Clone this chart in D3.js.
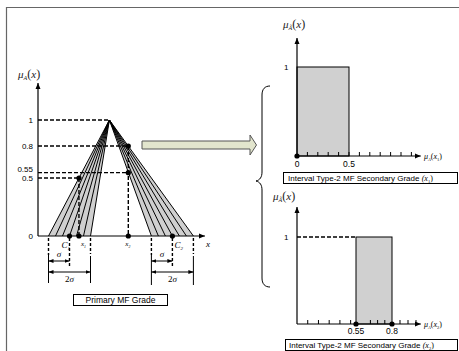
<!DOCTYPE html>
<html><head><meta charset="utf-8">
<script src="https://cdn.jsdelivr.net/npm/d3@7"></script>
<style>body{margin:0;background:#fff}svg{display:block}</style>
</head><body>
<script>
// ---------- data ----------
const leftYTicks = [0, 0.5, 0.55, 0.8, 1];
const leftYLabels = ["0", "0.5", "0.55", "0.8", "1"];
const C1 = 1.5, C2 = 6.4, sigma = 1, peakX = 3.4;
const x1 = 1.95, x2 = 4.3;
const lineCount = 7;
const gradeX1 = [0, 0.5];      // secondary grade interval at x1
const gradeX2 = [0.55, 0.8];   // secondary grade interval at x2
const topTicks = [0.1,0.2,0.3,0.4,0.5,0.6,0.7,0.8,0.9,1.0,1.1];
const bottomTicks = [0.1,0.2,0.3,0.4,0.5,0.65,0.7,0.75,0.9,1.0,1.1];
const topXLabels = [0, 0.5];
const bottomXLabels = [0.55, 0.8];

// ---------- setup ----------
const W = 459, H = 351;
const svg = d3.select("body").append("svg").attr("width", W).attr("height", H);
svg.append("rect").attr("width", W).attr("height", H).attr("fill", "#fff");
const defs = svg.append("defs");
defs.append("marker").attr("id","ax").attr("viewBox","0 0 6 6").attr("refX",6).attr("refY",3)
  .attr("markerWidth",6).attr("markerHeight",6).attr("markerUnits","userSpaceOnUse")
  .attr("orient","auto-start-reverse")
  .append("path").attr("d","M0,0.5L6,3L0,5.5Z").attr("fill","#000");
defs.append("marker").attr("id","sm").attr("viewBox","0 0 5 4").attr("refX",5).attr("refY",2)
  .attr("markerWidth",5).attr("markerHeight",4).attr("markerUnits","userSpaceOnUse")
  .attr("orient","auto-start-reverse")
  .append("path").attr("d","M0,0L5,2L0,4Z").attr("fill","#000");

const SANS = "Arial, 'Liberation Sans', sans-serif";
const SERIF = "'Times New Roman', 'Liberation Serif', serif";

// outer frame
svg.append("path").attr("d",`M6.5,${H}V7.5H${W}`).attr("fill","none").attr("stroke","#666").attr("stroke-width",1.2);

function line(g, xa, ya, xb, yb, opts={}) {
  const l = g.append("line").attr("x1",xa).attr("y1",ya).attr("x2",xb).attr("y2",yb)
    .attr("stroke","#000").attr("stroke-width",opts.w||1);
  if (opts.dash) l.attr("stroke-dasharray", opts.dash);
  if (opts.end) l.attr("marker-end", `url(#${opts.end})`);
  if (opts.start) l.attr("marker-start", `url(#${opts.start})`);
  return l;
}
function dot(g, x, y) { g.append("circle").attr("cx",x).attr("cy",y).attr("r",2.6).attr("fill","#000"); }
function muLabel(g, x, y, sub, arg, size=11) {
  const t = g.append("text").attr("x",x).attr("y",y).attr("font-family",SERIF).attr("font-size",size).attr("fill","#222");
  t.append("tspan").attr("font-style","italic").text("μ");
  t.append("tspan").attr("font-style","italic").attr("font-size",size*0.55).attr("dy",size*0.22).text(sub);
  t.append("tspan").attr("dy",-size*0.22).attr("font-size",size*1.1).text("(");
  t.append("tspan").attr("font-style","italic").text("x");
  t.append("tspan").attr("font-size",size*1.1).text(")");
}
function smallMu(g, x, y, sub) {
  const t = g.append("text").attr("x",x).attr("y",y).attr("font-family",SERIF).attr("font-size",8);
  t.append("tspan").attr("font-style","italic").text("μ");
  t.append("tspan").attr("font-style","italic").attr("font-size",4.5).attr("dy",1.5).text("A");
  t.append("tspan").attr("dy",-1.5).text("(");
  t.append("tspan").attr("font-style","italic").text("x");
  t.append("tspan").attr("font-size",4.5).attr("dy",1.5).text(sub);
  t.append("tspan").attr("dy",-1.5).text(")");
}

// ---------- left: primary MF ----------
const gL = svg.append("g");
const xL = d3.scaleLinear().domain([0, 8]).range([38, 206]);
const yL = d3.scaleLinear().domain([0, 0.5, 0.8, 1]).range([236, 178, 146, 120]);

// shaded footprints
[C1, C2].forEach(c => {
  gL.append("path").attr("d", d3.line()([[xL(peakX), yL(1)], [xL(c - sigma), yL(0)], [xL(c + sigma), yL(0)]]) + "Z")
    .attr("fill", "#cfcfcf");
  d3.range(lineCount).forEach(i => {
    const f = c - sigma + i * (2 * sigma / (lineCount - 1));
    line(gL, xL(peakX), yL(1), xL(f), yL(0), {w:1});
  });
});
// axes
line(gL, xL(0), yL(0), xL(0), 83, {w:1.2, end:"ax"});
line(gL, xL(0), yL(0), xL(7.95), yL(0), {w:1.2, end:"ax"});
muLabel(gL, 18, 78, "A", "x", 11);
gL.append("text").attr("x", xL(7.95)+1).attr("y", yL(0)+11).attr("font-family",SERIF).attr("font-style","italic").attr("font-size",9).text("x");
// y tick labels
leftYTicks.forEach((v,i) => {
  gL.append("text").attr("x", 33).attr("y", yL(v) + (v===0.55 ? -1 : 3)).attr("text-anchor","end")
    .attr("font-family",SANS).attr("font-size",8).text(leftYLabels[i]);
});
// dashed guides
const DASH = "4,2";
[[1, peakX], [0.8, x2], [0.55, x2], [0.5, x1]].forEach(([v, xe]) => {
  line(gL, xL(0), yL(v), xL(xe), yL(v), {w:1.4, dash:DASH});
});
line(gL, xL(x1), yL(0.5), xL(x1), yL(0), {w:1.4, dash:DASH});
line(gL, xL(x2), yL(0.8), xL(x2), yL(0), {w:1.4, dash:DASH});
[[x1,0.5],[x2,0.8],[x2,0.55],[C1,0],[x1,0],[x2,0],[C2,0]].forEach(([a,b]) => dot(gL, xL(a), yL(b)));
// point labels
function subLabel(g, x, y, base, sub, size) {
  const t = g.append("text").attr("x",x).attr("y",y).attr("font-family",SERIF).attr("font-style","italic").attr("font-size",size);
  t.append("tspan").text(base);
  t.append("tspan").attr("font-size",size*0.55).attr("dy",2).text(sub);
}
subLabel(gL, xL(C1)-8, yL(0)+12, "C", "1", 9);
subLabel(gL, xL(x1)+2, yL(0)+10, "x", "1", 7);
subLabel(gL, xL(x2)-3, yL(0)+10, "x", "2", 7);
subLabel(gL, xL(C2)+2, yL(0)+12, "C", "2", 9);
// sigma dimension lines
[[C1, 283], [C2, 285]].forEach(([c, bot]) => {
  const a = xL(c - sigma), m = xL(c), b = xL(c + sigma);
  line(gL, a, 238, a, 255, {w:1.4, dash:"3,2"});
  line(gL, a, 255, a, bot, {w:1});
  line(gL, m, 238, m, 266, {w:1.4, dash:"3,2"});
  line(gL, b, 238, b, 254, {w:1.4, dash:"3,2"});
  line(gL, b, 256, b, bot, {w:1});
  line(gL, a, 261, m, 261, {w:1, start:"sm", end:"sm"});
  line(gL, a, 272, b, 272, {w:1, start:"sm", end:"sm"});
  gL.append("text").attr("x", (a+m)/2).attr("y", 257).attr("text-anchor","middle")
    .attr("font-family",SERIF).attr("font-style","italic").attr("font-size",9).text("σ");
  const t = gL.append("text").attr("x", (a+b)/2).attr("y", 282).attr("text-anchor","middle")
    .attr("font-family",SERIF).attr("font-size",9);
  t.append("tspan").text("2");
  t.append("tspan").attr("font-style","italic").text("σ");
});
// caption box
gL.append("rect").attr("x",73.5).attr("y",294.5).attr("width",94).attr("height",11).attr("fill","#fff").attr("stroke","#000");
gL.append("text").attr("x",120.5).attr("y",303).attr("text-anchor","middle").attr("font-family",SANS).attr("font-size",8.5).text("Primary MF Grade");

// ---------- block arrow & brace ----------
svg.append("path").attr("d","M142,141H250V135L256.5,145L250,155V149H142Z")
  .attr("fill","#e2e5cd").attr("stroke","#555").attr("stroke-width",1);
svg.append("path").attr("d","M270,86C265,86 262,89 262,95V172C262,177 260,180 256,181C260,182 262,185 262,190V278C262,284 265,287 270,287")
  .attr("fill","none").attr("stroke","#000").attr("stroke-width",1);

// ---------- top right: secondary grade at x1 ----------
const gT = svg.append("g");
const xT = d3.scaleLinear().domain([0, 0.5]).range([297, 349]);
const yT = d3.scaleLinear().domain([0, 1]).range([156, 67]);
gT.append("rect").attr("x", xT(gradeX1[0])).attr("y", yT(1)).attr("width", xT(gradeX1[1]) - xT(gradeX1[0]))
  .attr("height", yT(0) - yT(1)).attr("fill","#d0d0d0").attr("stroke","#000").attr("stroke-width",1);
line(gT, xT(0), yT(0), xT(0), 38, {w:1.2, end:"ax"});
line(gT, xT(0), yT(0), xT(1.19), yT(0), {w:1.2, end:"ax"});
topTicks.forEach(v => line(gT, xT(v), yT(0), xT(v), yT(0)-4, {w:1}));
dot(gT, xT(0), yT(0));
muLabel(gT, 283, 28, "Ã", "x", 11);
gT.append("text").attr("x", 284).attr("y", yT(1)+3).attr("font-family",SANS).attr("font-size",8).text("1");
topXLabels.forEach(v => gT.append("text").attr("x", xT(v)).attr("y", 167).attr("text-anchor","middle")
  .attr("font-family",SANS).attr("font-size",8.5).text(String(v)));
smallMu(gT, 424, 159, "1");
gT.append("rect").attr("x",283.5).attr("y",172.5).attr("width",174).attr("height",11).attr("fill","#fff").attr("stroke","#000");
const capT = gT.append("text").attr("x",288).attr("y",181).attr("font-family",SANS).attr("font-size",8);
capT.append("tspan").text("Interval Type-2 MF Secondary Grade ");
capT.append("tspan").attr("font-family",SERIF).attr("font-style","italic").text("(x");
capT.append("tspan").attr("font-family",SERIF).attr("font-size",4.5).attr("dy",1.5).text("1");
capT.append("tspan").attr("font-family",SERIF).attr("dy",-1.5).text(")");

// ---------- bottom right: secondary grade at x2 ----------
const gB = svg.append("g");
const xB = d3.scaleLinear().domain([0, 0.55, 0.8, 1.2]).range([297, 356, 392, 424]);
const yB = d3.scaleLinear().domain([0, 1]).range([324, 237]);
gB.append("rect").attr("x", xB(gradeX2[0])).attr("y", yB(1)).attr("width", xB(gradeX2[1]) - xB(gradeX2[0]))
  .attr("height", yB(0) - yB(1)).attr("fill","#d0d0d0").attr("stroke","#000").attr("stroke-width",1);
line(gB, xB(0), yB(0), xB(0), 207, {w:1.2, end:"ax"});
line(gB, xB(0), yB(0), xB(1.16), yB(0), {w:1.2, end:"ax"});
bottomTicks.forEach(v => line(gB, xB(v), yB(0), xB(v), yB(0)-4, {w:1}));
line(gB, xB(0), yB(1), xB(gradeX2[0]), yB(1), {w:1.4, dash:DASH});
bottomXLabels.forEach(v => dot(gB, xB(v), yB(0)));
muLabel(gB, 273, 200, "Ã", "x", 11);
gB.append("text").attr("x", 284).attr("y", yB(1)+3).attr("font-family",SANS).attr("font-size",8).text("1");
bottomXLabels.forEach(v => gB.append("text").attr("x", xB(v)).attr("y", 334).attr("text-anchor","middle")
  .attr("font-family",SANS).attr("font-size",8.5).text(String(v)));
smallMu(gB, 424, 327, "2");
gB.append("rect").attr("x",285.5).attr("y",339.5).attr("width",172).attr("height",11).attr("fill","#fff").attr("stroke","#000");
const capB = gB.append("text").attr("x",289).attr("y",348).attr("font-family",SANS).attr("font-size",8);
capB.append("tspan").text("Interval Type-2 MF Secondary Grade  ");
capB.append("tspan").attr("font-family",SERIF).attr("font-style","italic").text("(x");
capB.append("tspan").attr("font-family",SERIF).attr("font-size",4.5).attr("dy",1.5).text("2");
capB.append("tspan").attr("font-family",SERIF).attr("dy",-1.5).text(")");
</script>
</body></html>
